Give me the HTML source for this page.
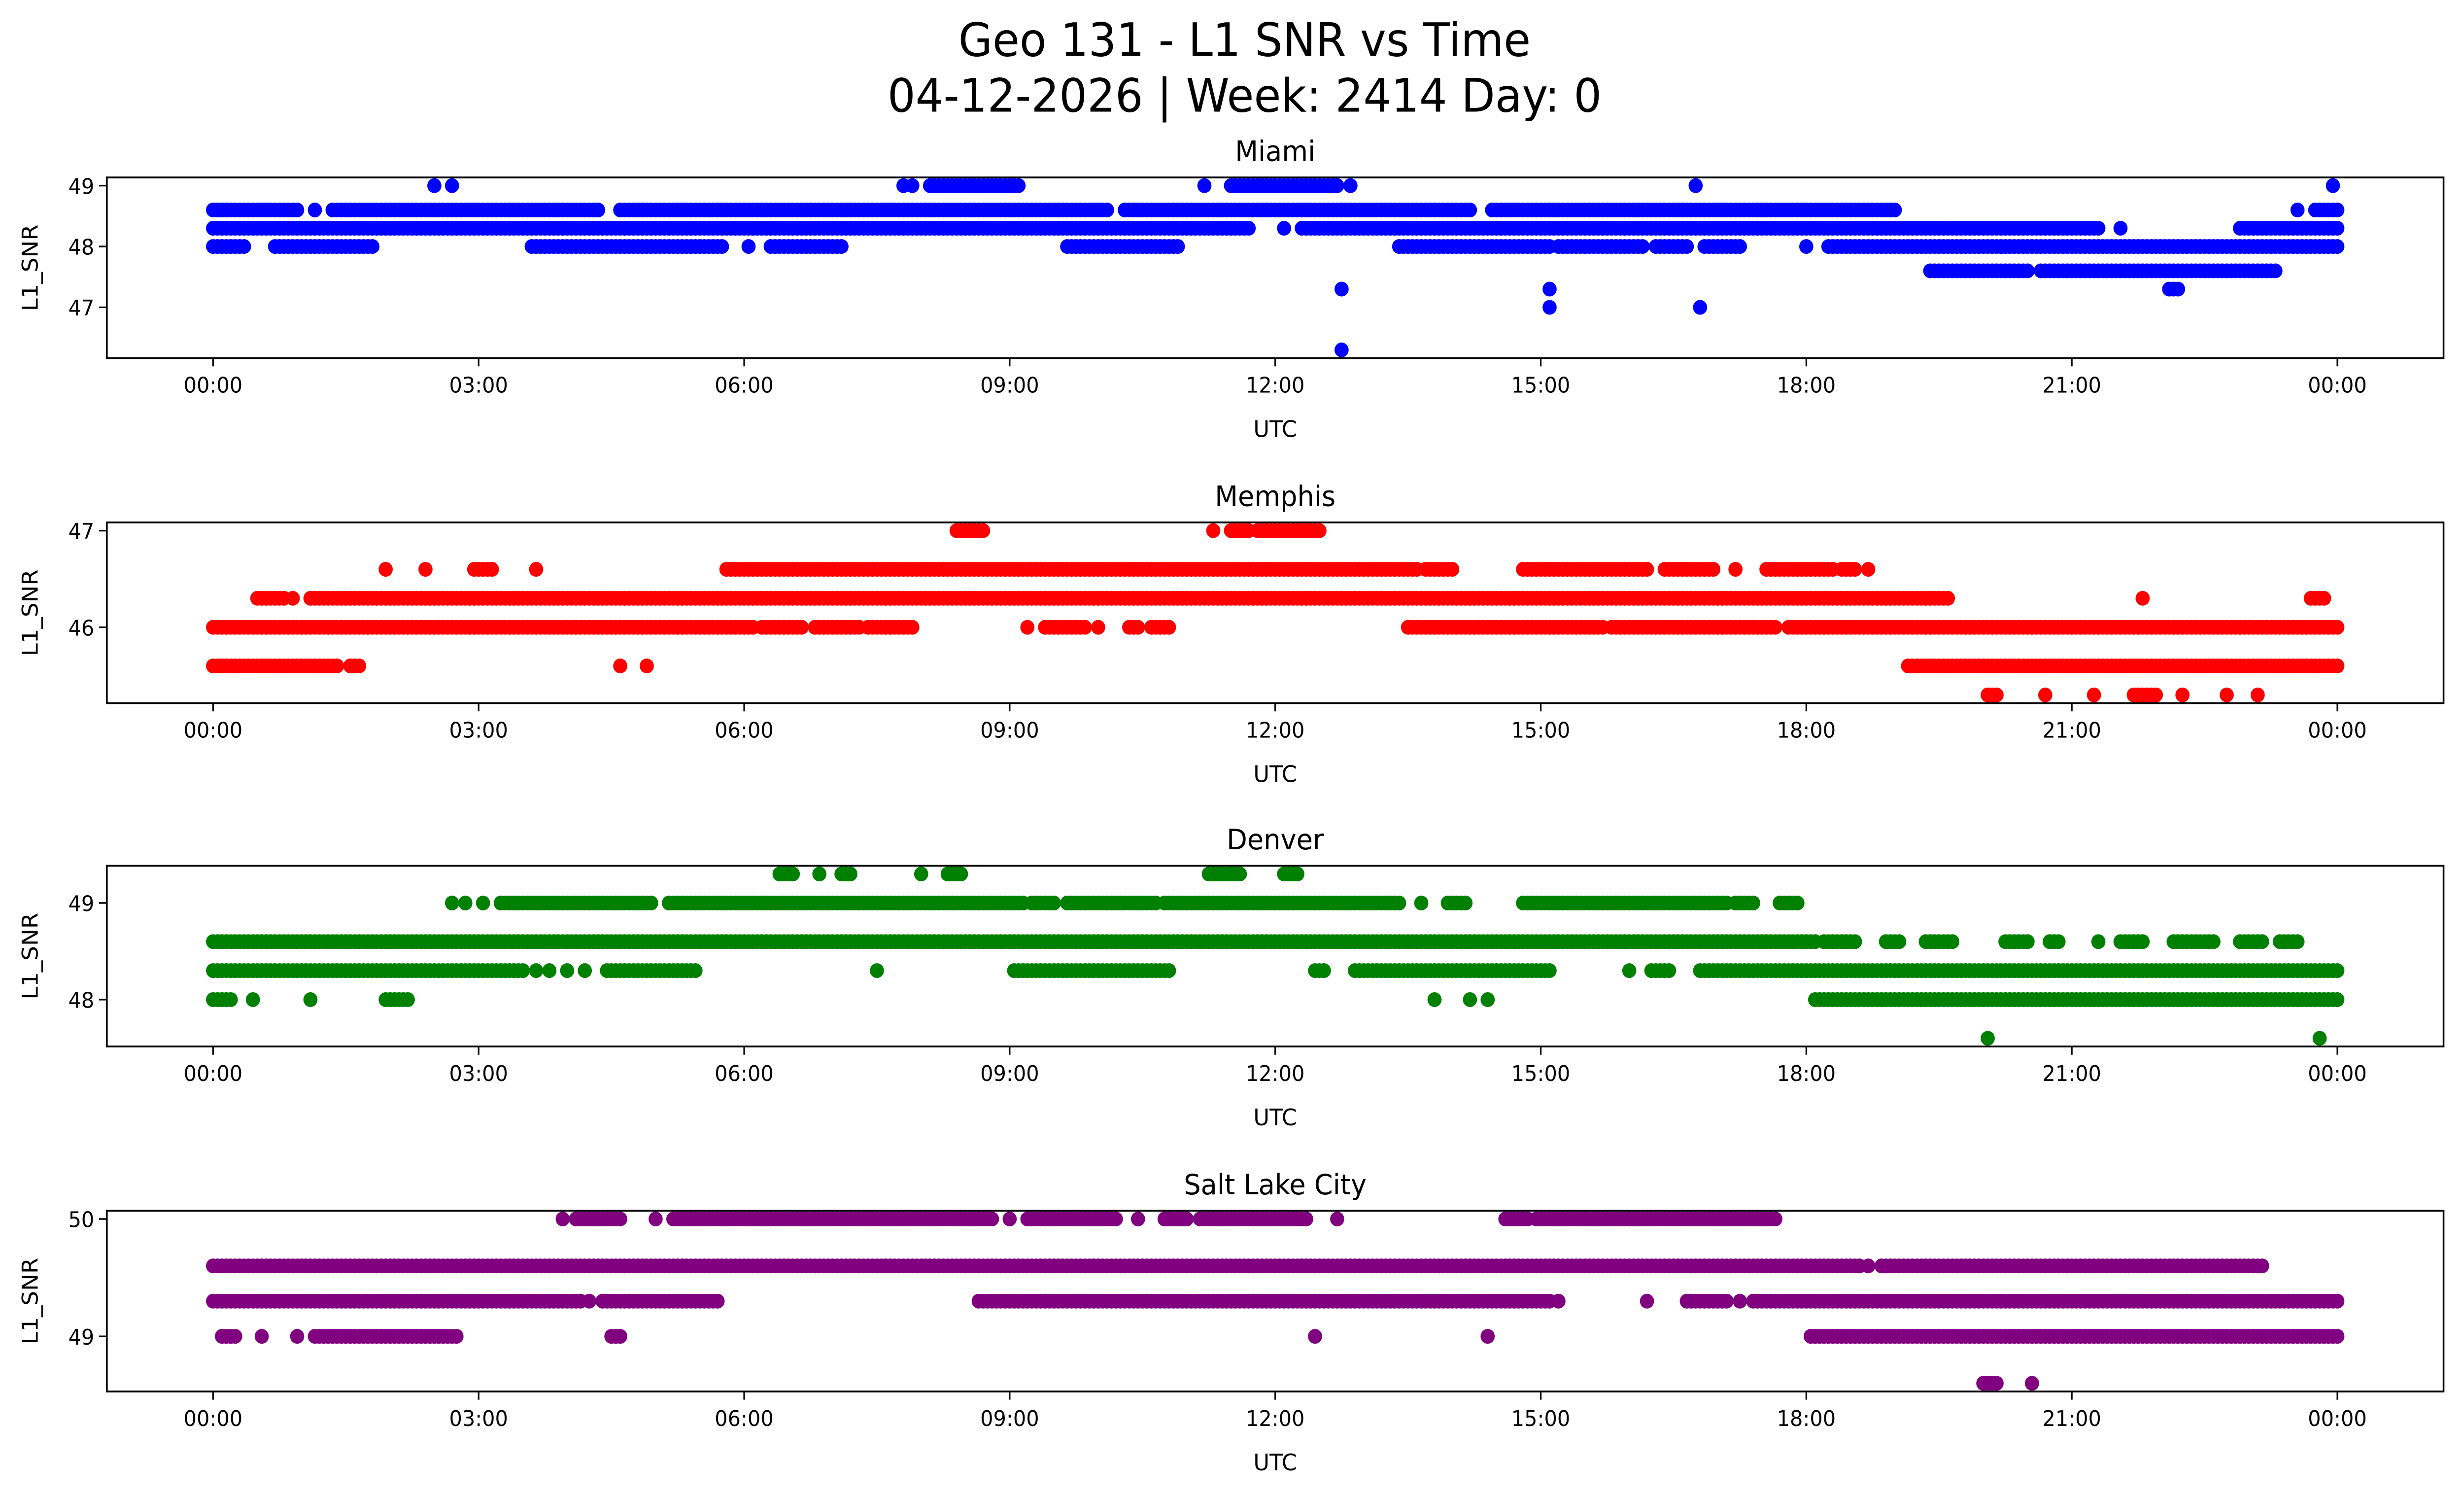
<!DOCTYPE html>
<html><head><meta charset="utf-8"><title>Geo 131 - L1 SNR vs Time</title>
<style>html,body{margin:0;padding:0;background:#fff;overflow:hidden;width:100%;height:100%}svg{display:block;position:fixed;left:0;top:0;width:100vw;height:100vh}text{font-family:"DejaVu Sans","Liberation Sans",sans-serif;fill:#000}</style>
</head><body>
<svg id="fig" viewBox="0 0 1568 910" preserveAspectRatio="none" xmlns="http://www.w3.org/2000/svg">
<rect width="1568" height="910" fill="#fff"/>
<text x="792" y="34" font-size="28" text-anchor="middle">Geo 131 - L1 SNR vs Time</text>
<text x="792" y="68" font-size="28" text-anchor="middle">04-12-2026 | Week: 2414 Day: 0</text>
<g id="panels"></g>
</svg>
<script>
// x tick labels (hours)
const tickHours = [0,3,6,9,12,15,18,21,24];
const tickLabels = ["00:00","03:00","06:00","09:00","12:00","15:00","18:00","21:00","00:00"];
const stations = ["Miami","Memphis","Denver","Salt Lake City"];
const colors = ["#0000ff","#ff0000","#008000","#800080"];
const yTicks = [[47,48,49],[46,47],[48,49],[49,50]];
// runs: [snr, startHour, endHour]
const miamiRuns = [
[49,2.5,2.5],[49,2.7,2.7],[49,7.8,7.8],[49,7.9,7.9],[49,8.1,9.1],[49,11.2,11.2],[49,11.5,12.7],[49,12.85,12.85],[49,16.75,16.75],[49,23.95,23.95],
[48.6,0,0.95],[48.6,1.15,1.15],[48.6,1.35,4.35],[48.6,4.6,10.1],[48.6,10.3,14.2],[48.6,14.45,15.5],[48.6,15.55,16.45],[48.6,16.5,19.0],[48.6,23.55,23.55],[48.6,23.75,24],
[48.3,0,11.7],[48.3,12.1,12.1],[48.3,12.3,21.3],[48.3,21.55,21.55],[48.3,22.9,24],
[48,0,0.35],[48,0.7,1.8],[48,3.6,5.75],[48,6.05,6.05],[48,6.3,7.1],[48,9.65,10.9],[48,13.4,15.1],[48,15.2,16.15],[48,16.3,16.65],[48,16.85,17.25],[48,18.0,18.0],[48,18.25,24],
[47.6,19.4,20.5],[47.6,20.65,23.3],
[47.3,12.75,12.75],[47.3,15.1,15.1],[47.3,22.1,22.2],
[47,15.1,15.1],[47,16.8,16.8],
[46.3,12.75,12.75]];
const memphisRuns = [
[47,8.4,8.7],[47,11.3,11.3],[47,11.5,11.7],[47,11.8,12.5],
[46.6,1.95,1.95],[46.6,2.4,2.4],[46.6,2.95,3.15],[46.6,3.65,3.65],[46.6,5.8,13.6],[46.6,13.7,14.0],[46.6,14.8,16.2],[46.6,16.4,16.95],[46.6,17.2,17.2],[46.6,17.55,18.3],[46.6,18.4,18.55],[46.6,18.7,18.7],
[46.3,0.5,0.8],[46.3,0.9,0.9],[46.3,1.1,19.6],[46.3,21.8,21.8],[46.3,23.7,23.85],
[46,0,6.1],[46,6.2,6.65],[46,6.8,7.3],[46,7.4,7.9],[46,9.2,9.2],[46,9.4,9.85],[46,10.0,10.0],[46,10.35,10.45],[46,10.6,10.8],[46,13.5,15.7],[46,15.8,17.65],[46,17.8,24],
[45.6,0,1.4],[45.6,1.55,1.65],[45.6,4.6,4.6],[45.6,4.9,4.9],[45.6,19.15,24],
[45.3,20.05,20.15],[45.3,20.7,20.7],[45.3,21.25,21.25],[45.3,21.7,21.95],[45.3,22.25,22.25],[45.3,22.75,22.75],[45.3,23.1,23.1]];
const denverRuns = [
[49.3,6.4,6.55],[49.3,6.85,6.85],[49.3,7.1,7.2],[49.3,8.0,8.0],[49.3,8.3,8.45],[49.3,11.25,11.6],[49.3,12.1,12.25],
[49,2.7,2.7],[49,2.85,2.85],[49,3.05,3.05],[49,3.25,4.95],[49,5.15,9.15],[49,9.25,9.5],[49,9.65,10.65],[49,10.75,13.4],[49,13.65,13.65],[49,13.95,14.15],[49,14.8,17.1],[49,17.2,17.4],[49,17.7,17.9],
[48.6,0,18.1],[48.6,18.2,18.55],[48.6,18.9,19.05],[48.6,19.35,19.65],[48.6,20.25,20.5],[48.6,20.75,20.85],[48.6,21.3,21.3],[48.6,21.55,21.8],[48.6,22.15,22.6],[48.6,22.9,23.15],[48.6,23.35,23.55],
[48.3,0,3.5],[48.3,3.65,3.65],[48.3,3.8,3.8],[48.3,4.0,4.0],[48.3,4.2,4.2],[48.3,4.45,5.45],[48.3,7.5,7.5],[48.3,9.05,10.8],[48.3,12.45,12.55],[48.3,12.9,15.1],[48.3,16.0,16.0],[48.3,16.25,16.45],[48.3,16.8,24],
[48,0,0.2],[48,0.45,0.45],[48,1.1,1.1],[48,1.95,2.2],[48,13.8,13.8],[48,14.2,14.2],[48,14.4,14.4],[48,18.1,24],
[47.6,20.05,20.05],[47.6,23.8,23.8]];
const slcRuns = [
[50,3.95,3.95],[50,4.1,4.6],[50,5.0,5.0],[50,5.2,8.8],[50,9.0,9.0],[50,9.2,10.2],[50,10.45,10.45],[50,10.75,11.0],[50,11.15,12.35],[50,12.7,12.7],[50,14.6,14.85],[50,14.95,17.65],
[49.6,0,18.6],[49.6,18.7,18.7],[49.6,18.85,23.15],
[49.3,0,4.15],[49.3,4.25,4.25],[49.3,4.4,5.7],[49.3,8.65,15.1],[49.3,15.2,15.2],[49.3,16.2,16.2],[49.3,16.65,17.1],[49.3,17.25,17.25],[49.3,17.4,24],
[49,0.1,0.25],[49,0.55,0.55],[49,0.95,0.95],[49,1.15,2.75],[49,4.5,4.6],[49,12.45,12.45],[49,14.4,14.4],[49,18.05,24],
[48.6,20.0,20.15],[48.6,20.55,20.55]];
const allRuns = [miamiRuns, memphisRuns, denverRuns, slcRuns];

const NS = "http://www.w3.org/2000/svg";
const panelsG = document.getElementById("panels");
const axL = 68, axR = 1555;
const xMin = -1.2, xMax = 25.2;
const tops = [108, 318, 527, 737];
const axH = 110;
function mk(tag, attrs, parent){const e=document.createElementNS(NS,tag);for(const k in attrs)e.setAttribute(k,attrs[k]);parent.appendChild(e);return e;}
function xScale(h){return axL + (h - xMin) / (xMax - xMin) * (axR - axL);}

stations.forEach((name, i) => {
  const runs = allRuns[i];
  const top = tops[i], bot = top + axH;
  let vmin = Infinity, vmax = -Infinity;
  runs.forEach(r => { vmin = Math.min(vmin, r[0]); vmax = Math.max(vmax, r[0]); });
  const m = (vmax - vmin) * 0.05;
  const y0 = vmin - m, y1 = vmax + m;
  const yScale = v => bot - (v - y0) / (y1 - y0) * axH;

  const g = mk("g", {}, panelsG);
  
  

  const t = mk("text", {x: (axL+axR)/2, y: top - 10, "font-size": 17, "text-anchor": "middle"}, g);
  t.textContent = name;
  
  

  const dots = mk("g", {fill: colors[i]}, g);
  
  
  runs.forEach(r => {
    const cy = yScale(r[0]);
    const n = Math.max(0, Math.round((r[2] - r[1]) / 0.05));
    for (let k = 0; k <= n; k++) {
      const h = n === 0 ? r[1] : r[1] + (r[2] - r[1]) * k / n;
      const c = mk("circle", {cx: xScale(h).toFixed(2), cy: cy.toFixed(2), r: 4.5}, dots);
      
      
    }
  });

  const frame = mk("rect", {x: axL, y: top, width: axR - axL, height: axH, fill: "none", stroke: "#000", "stroke-width": 1.1}, g);
  
  

  tickHours.forEach((h, j) => {
    const x = xScale(h);
    mk("line", {x1: x, x2: x, y1: bot, y2: bot + 5, stroke: "#000", "stroke-width": 1}, g);
    const tl = mk("text", {x: x, y: bot + 21, "font-size": 13, "text-anchor": "middle"}, g);
    tl.textContent = tickLabels[j];
    
    
  });
  yTicks[i].forEach(v => {
    const y = yScale(v);
    mk("line", {x1: axL - 5, x2: axL, y1: y, y2: y, stroke: "#000", "stroke-width": 1}, g);
    const yl = mk("text", {x: axL - 8, y: y + 5, "font-size": 13, "text-anchor": "end"}, g);
    yl.textContent = v;
    
    
  });
  const xt = mk("text", {x: (axL+axR)/2, y: bot + 48, "font-size": 14, "text-anchor": "middle"}, g);
  xt.textContent = "UTC";
  
  
  const yc = top + axH/2;
  const yt = mk("text", {x: 24, y: yc, "font-size": 14, "text-anchor": "middle", transform: "rotate(-90 24 " + yc + ")"}, g);
  yt.textContent = "L1_SNR";
  
  
});
</script>
</body></html>
